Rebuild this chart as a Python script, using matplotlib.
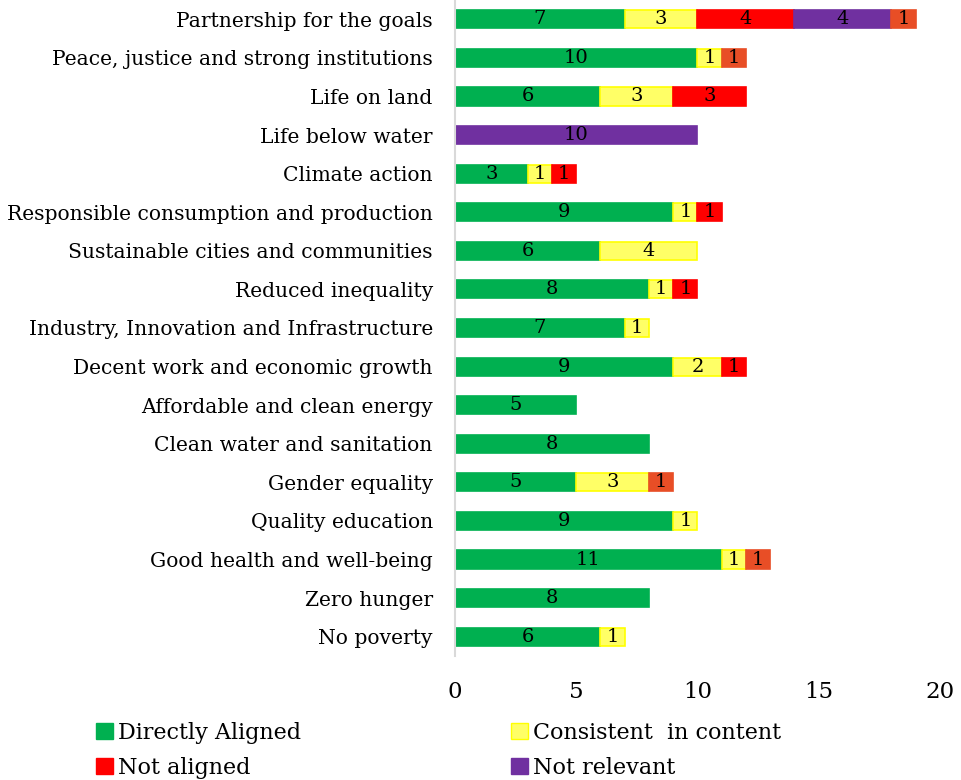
import matplotlib
matplotlib.use("Agg")
import matplotlib.pyplot as plt
from matplotlib.patches import Patch
import numpy as np

categories = [
    "No poverty", "Zero hunger", "Good health and well-being", "Quality education",
    "Gender equality", "Clean water and sanitation", "Affordable and clean energy",
    "Decent work and economic growth", "Industry, Innovation and Infrastructure",
    "Reduced inequality", "Sustainable cities and communities",
    "Responsible consumption and production", "Climate action", "Life below water",
    "Life on land", "Peace, justice and strong institutions", "Partnership for the goals",
]
directly_aligned = [6, 8, 11, 9, 5, 8, 5, 9, 7, 8, 6, 9, 3, 0, 6, 10, 7]
consistent = [1, 0, 1, 1, 3, 0, 0, 2, 1, 1, 4, 1, 1, 0, 3, 1, 3]
not_aligned = [0, 0, 0, 0, 0, 0, 0, 1, 0, 1, 0, 1, 1, 0, 3, 0, 4]
not_relevant = [0, 0, 0, 0, 0, 0, 0, 0, 0, 0, 0, 0, 0, 10, 0, 0, 4]
other = [0, 0, 1, 0, 1, 0, 0, 0, 0, 0, 0, 0, 0, 0, 0, 1, 1]

series = [
    ("Directly Aligned", directly_aligned, "#00B050", "#00B050"),
    ("Consistent  in content", consistent, "#FFFF66", "#FFFF00"),
    ("Not aligned", not_aligned, "#FF0000", "#FF0000"),
    ("Not relevant", not_relevant, "#7030A0", "#7030A0"),
    ("Other", other, "#E84E26", "#E84E26"),
]

FONT = "DejaVu Serif"
plt.rcParams["font.family"] = [FONT]

fig = plt.figure(figsize=(9.61, 7.8), dpi=100)
ax = fig.add_axes([0.4735, 0.159, 0.5045, 0.841])

y = np.arange(len(categories))
left = np.zeros(len(categories))
for name, vals, fc, ec in series:
    vals = np.array(vals, dtype=float)
    mask = vals > 0
    ax.barh(y[mask], vals[mask], left=left[mask], height=0.47, color=fc, edgecolor=ec, linewidth=1.2)
    for yi in y[mask]:
        ax.text(left[yi] + vals[yi] / 2, yi, f"{int(vals[yi])}", ha="center", va="center",
                fontsize=14, color="black")
    left += vals

ax.set_xlim(0, 20)
ax.set_ylim(-0.5, len(categories) - 0.5)
ax.set_yticks(y)
ax.set_yticklabels(categories, fontsize=14.6)
ax.set_xticks([0, 5, 10, 15, 20])
ax.tick_params(axis="x", labelsize=16.5, length=0, pad=18)
ax.tick_params(axis="y", length=0, pad=16)
for s in ["top", "right", "bottom"]:
    ax.spines[s].set_visible(False)
ax.spines["left"].set_color("#D9D9D9")
ax.spines["left"].set_linewidth(1.5)

order = [0, 2, 1, 3]
handles = [Patch(facecolor=series[i][2], edgecolor=series[i][3]) for i in order]
labels = [series[i][0] for i in order]
fig.legend(handles, labels, loc="lower left", bbox_to_anchor=(0.079, -0.024), ncol=2,
           frameon=False, fontsize=16, handlelength=0.75, handleheight=0.75,
           handletextpad=0.25, columnspacing=9.45, labelspacing=0.58)

fig.savefig("out.png", dpi=100)
